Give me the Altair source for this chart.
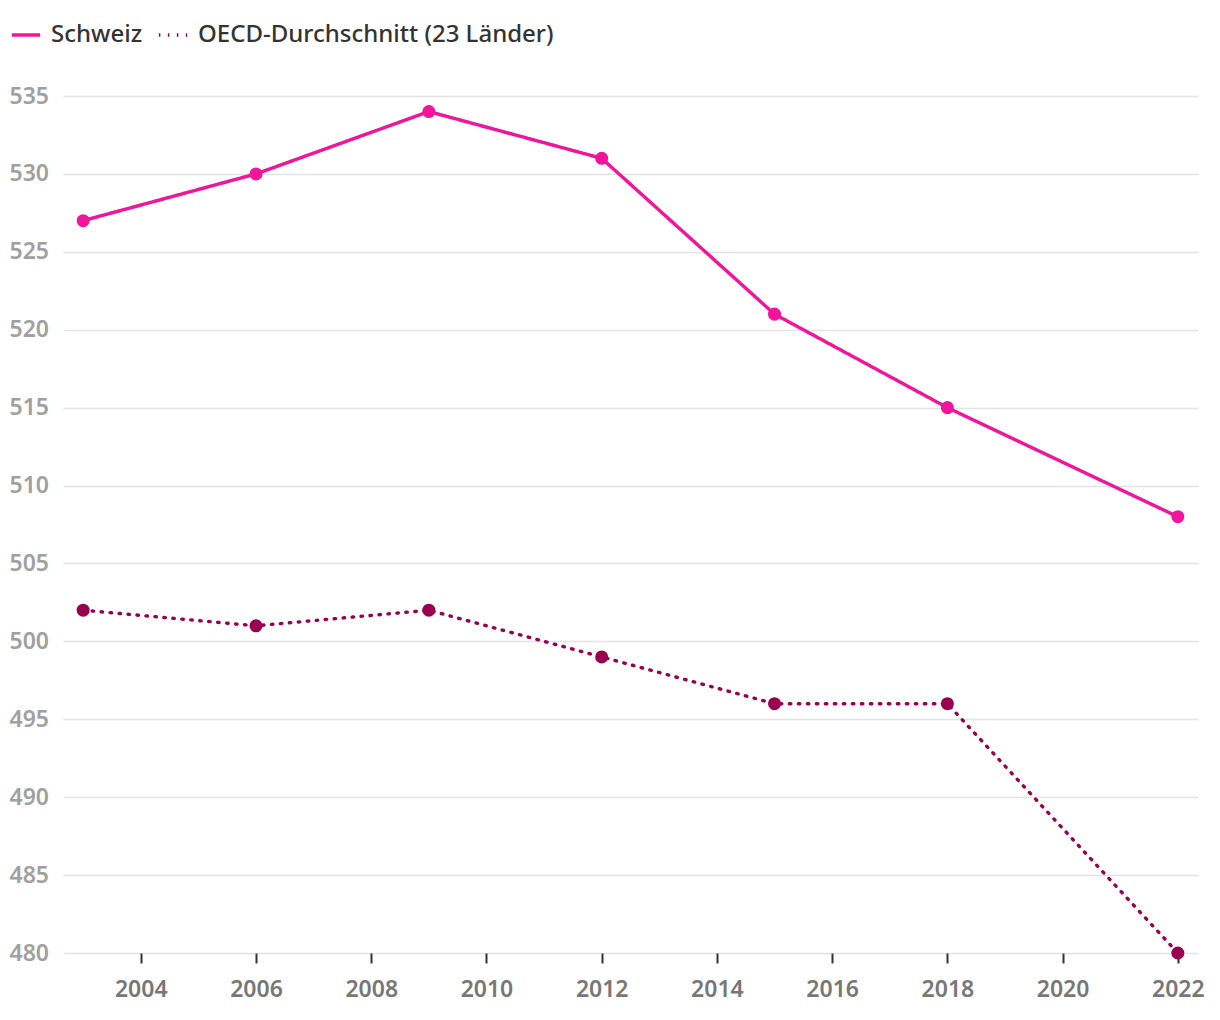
import altair as alt
import pandas as pd

years = [2003, 2006, 2009, 2012, 2015, 2018, 2022]
schweiz = [527, 530, 534, 531, 521, 515, 508]
oecd = [502, 501, 502, 499, 496, 496, 480]
series_names = ["Schweiz", "OECD-Durchschnitt (23 Länder)"]
colors = ["#f0159a", "#990050"]
x_ticks = [2004, 2006, 2008, 2010, 2012, 2014, 2016, 2018, 2020, 2022]
y_ticks = [480, 485, 490, 495, 500, 505, 510, 515, 520, 525, 530, 535]

rows = []
for y, v in zip(years, schweiz):
    rows.append({"Jahr": y, "Wert": v, "Serie": series_names[0]})
for y, v in zip(years, oecd):
    rows.append({"Jahr": y, "Wert": v, "Serie": series_names[1]})
df = pd.DataFrame(rows)

FONT = "Noto Sans"

x = alt.X("Jahr:Q",
          scale=alt.Scale(domain=[2002.65, 2022.35], nice=False, zero=False),
          axis=alt.Axis(values=x_ticks, format="d", title=None, grid=False,
                        domain=False, ticks=True, tickSize=10, tickWidth=2,
                        tickColor="#333333", labelColor="#777777",
                        labelFontSize=23, labelFont=FONT, labelPadding=15,
                        labelFontWeight=600))
y = alt.Y("Wert:Q",
          scale=alt.Scale(domain=[480, 535], nice=False, zero=False),
          axis=alt.Axis(values=y_ticks, title=None, grid=True,
                        gridColor="#e3e3e3", gridWidth=1.5, domain=False,
                        ticks=False, tickSize=0, labelAlign="left",
                        labelPadding=54, labelColor="#a0a0a0",
                        labelFontSize=23, labelFont=FONT, labelFontWeight=600))
color = alt.Color("Serie:N",
                  scale=alt.Scale(domain=series_names, range=colors),
                  legend=alt.Legend(title=None, orient="none", direction="horizontal",
                                    legendX=-53, legendY=-77,
                                    symbolType="stroke", symbolSize=800,
                                    symbolStrokeWidth=3.5, labelFontSize=24,
                                    labelFont=FONT, labelFontWeight=500,
                                    labelColor="#333333",
                                    labelOffset=9, columnPadding=8,
                                    labelLimit=600))
dash = alt.StrokeDash("Serie:N",
                      scale=alt.Scale(domain=series_names, range=[[1, 0], [1.5, 7.5]]),
                      legend=None)

lines = alt.Chart(df).mark_line(strokeWidth=3.4, strokeCap="round").encode(
    x=x, y=y, color=color, strokeDash=dash)
points = alt.Chart(df).mark_point(filled=True, size=170, opacity=1).encode(
    x="Jahr:Q", y="Wert:Q",
    color=alt.Color("Serie:N", scale=alt.Scale(domain=series_names, range=colors), legend=None))

chart = alt.layer(lines, points).properties(
    width=1135, height=857,
    padding={"left": 63, "top": 96, "right": 22, "bottom": 67},
    autosize=alt.AutoSizeParams(type="none"),
    background="white",
).configure_view(stroke=None)

chart.save("out.html", embed_options={"renderer": "svg", "actions": False})
